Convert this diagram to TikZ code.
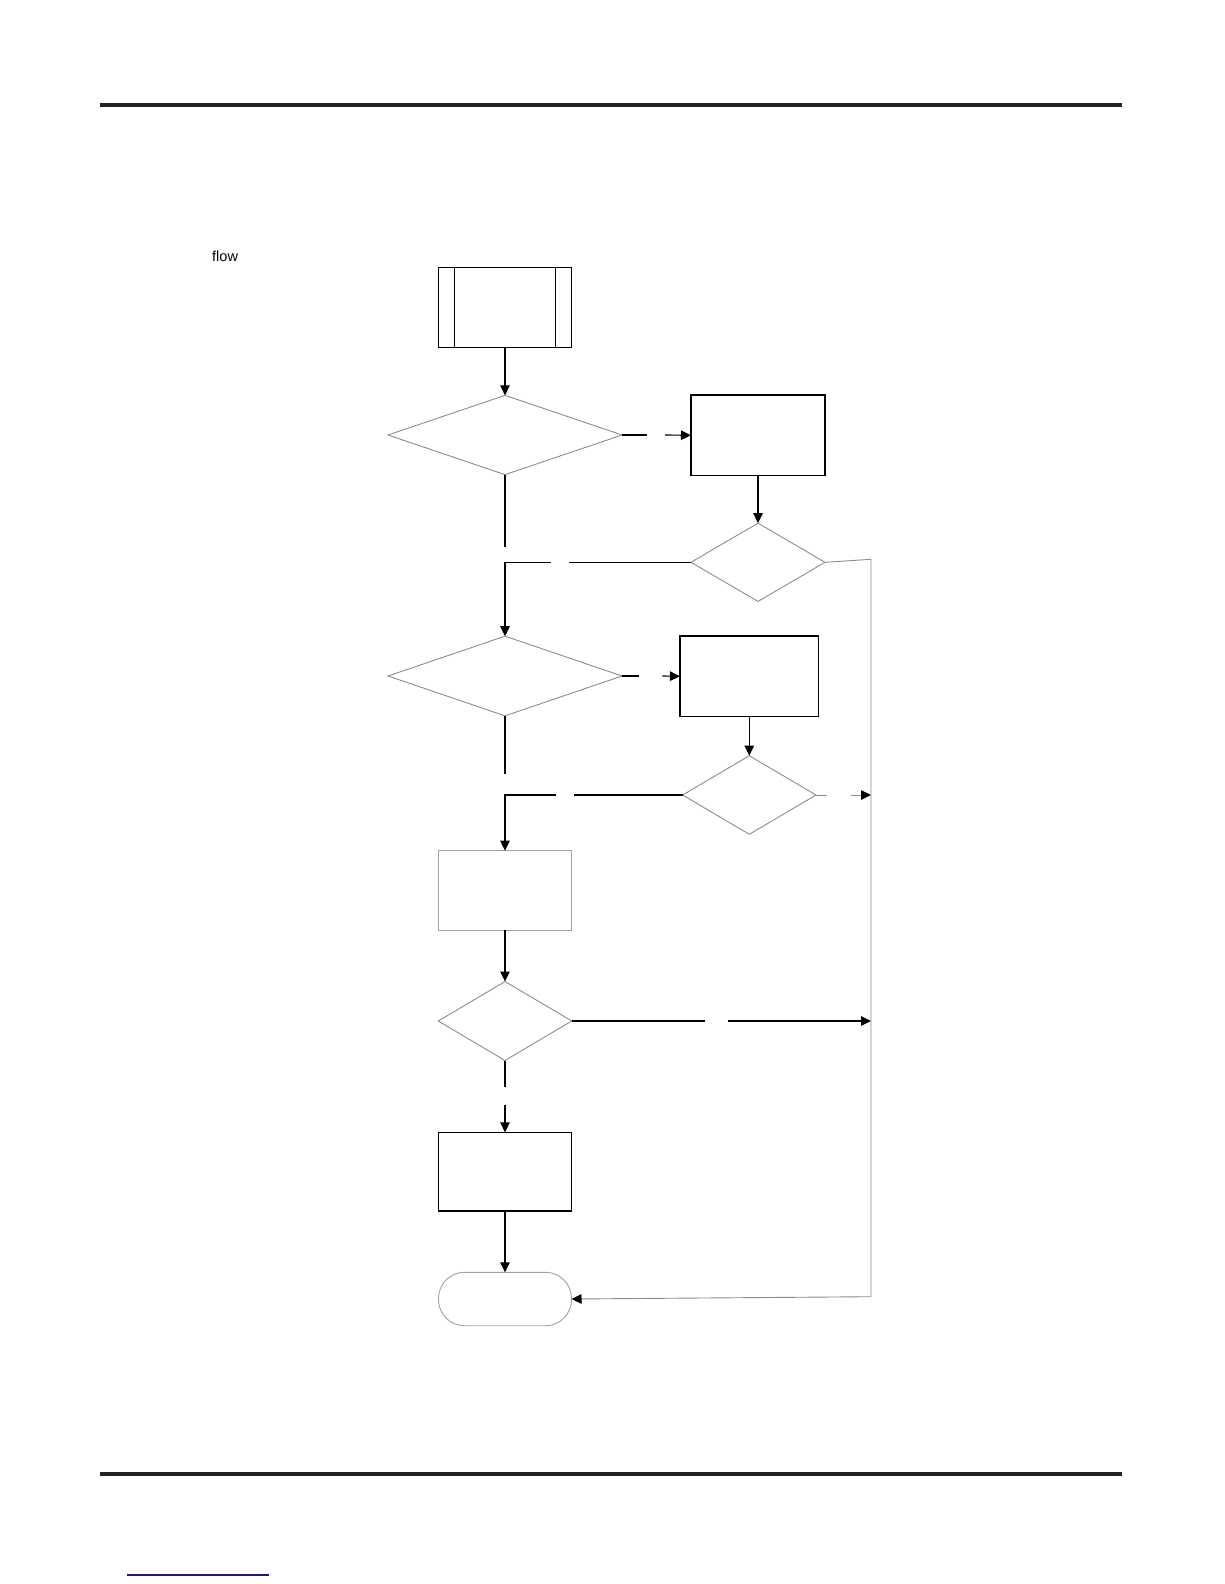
\documentclass[tikz,border=0pt]{standalone}
\usepackage{fontspec}
\setmainfont{Liberation Sans}
\usetikzlibrary{arrows.meta,shapes.geometric}
\definecolor{linegrey}{HTML}{8C8C8C}
\definecolor{boxgrey}{HTML}{A0A0A0}
\definecolor{rulegrey}{HTML}{222222}
\definecolor{linkblue}{HTML}{1A1A80}
\begin{document}
\begin{tikzpicture}[x=1pt,y=-1pt,
  blk/.style={line width=1.15pt,draw=black},
  gry/.style={line width=0.9pt,draw=linegrey},
  procbox/.style={rectangle,draw=black,line width=1.15pt,inner sep=0pt,outer sep=0pt},
  decbox/.style={diamond,draw=linegrey,line width=0.9pt,inner sep=0pt,outer sep=0pt},
  termbox/.style={rectangle,rounded corners=26pt,draw=boxgrey,line width=0.9pt,inner sep=0pt,outer sep=0pt},
  arr/.style={-{Triangle[length=10pt,width=9.5pt,color=black]}}
]
\useasboundingbox (0,0) rectangle (1224,1584);

% page rules
\draw[line width=4pt,draw=rulegrey] (100,104.7) coordinate (hl) -- (1122,104.7) coordinate (hr);
\draw[line width=4pt,draw=rulegrey] (100,1474) coordinate (fl) -- (1122,1474) coordinate (fr);
\draw[line width=1.3pt,draw=linkblue] (126.7,1575) coordinate (ll) -- (269,1575) coordinate (lr);

\node[anchor=base west,inner sep=0pt,font=\fontsize{14.5}{17}\selectfont] (flowlbl) at (212,261) {flow};

% nodes
\node[procbox,minimum width=133.4pt,minimum height=80pt] (start) at (505,307.3) {};
\draw[blk] ([xshift=16pt]start.north west) -- ([xshift=16pt]start.south west);
\draw[blk] ([xshift=-16pt]start.north east) -- ([xshift=-16pt]start.south east);

\node[decbox,minimum width=234pt,minimum height=79.3pt] (d1) at (505,435) {};
\node[procbox,minimum width=134pt,minimum height=80.7pt] (b1) at (758,435.3) {};
\node[decbox,minimum width=134pt,minimum height=78.3pt] (d2) at (758,562.3) {};
\node[decbox,minimum width=234pt,minimum height=79.7pt] (d3) at (505,676) {};
\node[procbox,minimum width=138.7pt,minimum height=80.7pt] (b2) at (749.3,676.3) {};
\node[decbox,minimum width=133.3pt,minimum height=78.6pt] (d4) at (749.3,795) {};
\node[procbox,draw=boxgrey,line width=0.9pt,minimum width=133.4pt,minimum height=79.3pt] (b3) at (505,890.3) {};
\node[decbox,minimum width=133.4pt,minimum height=79pt] (d5) at (505,1021) {};
\node[procbox,minimum width=133.4pt,minimum height=78.7pt] (b4) at (505,1171.7) {};
\node[termbox,minimum width=133pt,minimum height=53.4pt] (end) at (505,1299) {};

% gap coordinates
\coordinate (g1a) at (646.7,435);  \coordinate (g1b) at (665,435);
\coordinate (v1) at (505,546.7);
\coordinate (g2a) at (569,562.3);  \coordinate (g2b) at (551,562.3);
\coordinate (c2) at (505,562.3);
\coordinate (r1) at (871,559.3);
\coordinate (r2) at (871,1296.7);
\coordinate (g3a) at (639,676);    \coordinate (g3b) at (662.3,676);
\coordinate (v3) at (505,774);
\coordinate (g4a) at (574,795);    \coordinate (g4b) at (556,795);
\coordinate (c4) at (505,795);
\coordinate (g5a) at (826.7,795);  \coordinate (g5b) at (851,795);
\coordinate (r4) at (871,795);
\coordinate (g6a) at (705,1021);   \coordinate (g6b) at (728.3,1021);
\coordinate (r5) at (871,1021);
\coordinate (v5a) at (505,1086.7); \coordinate (v5b) at (505,1105);

% connectors
\draw[blk,arr] (start.south) -- (d1.north);
\draw[blk] (d1.east) -- (g1a);
\draw[blk,arr] (g1b) -- (b1.west);
\draw[blk,arr] (b1.south) -- (d2.north);
\draw[blk] (d1.south) -- (v1);
\draw[blk] (d2.west) -- (g2a);
\draw[blk,arr] (g2b) -- (c2) -- (d3.north);
\draw[gry] (d2.east) -- (r1) -- (r2);
\draw[gry,arr] (r2) -- (end.east);
\draw[blk] (d3.east) -- (g3a);
\draw[blk,arr] (g3b) -- (b2.west);
\draw[blk,arr] (b2.south) -- (d4.north);
\draw[blk] (d3.south) -- (v3);
\draw[blk] (d4.west) -- (g4a);
\draw[blk,arr] (g4b) -- (c4) -- (b3.north);
\draw[gry] (d4.east) -- (g5a);
\draw[gry,arr] (g5b) -- (r4);
\draw[blk,arr] (b3.south) -- (d5.north);
\draw[blk] (d5.east) -- (g6a);
\draw[blk,arr] (g6b) -- (r5);
\draw[blk] (d5.south) -- (v5a);
\draw[blk,arr] (v5b) -- (b4.north);
\draw[blk,arr] (b4.south) -- (end.north);
\end{tikzpicture}
\end{document}
